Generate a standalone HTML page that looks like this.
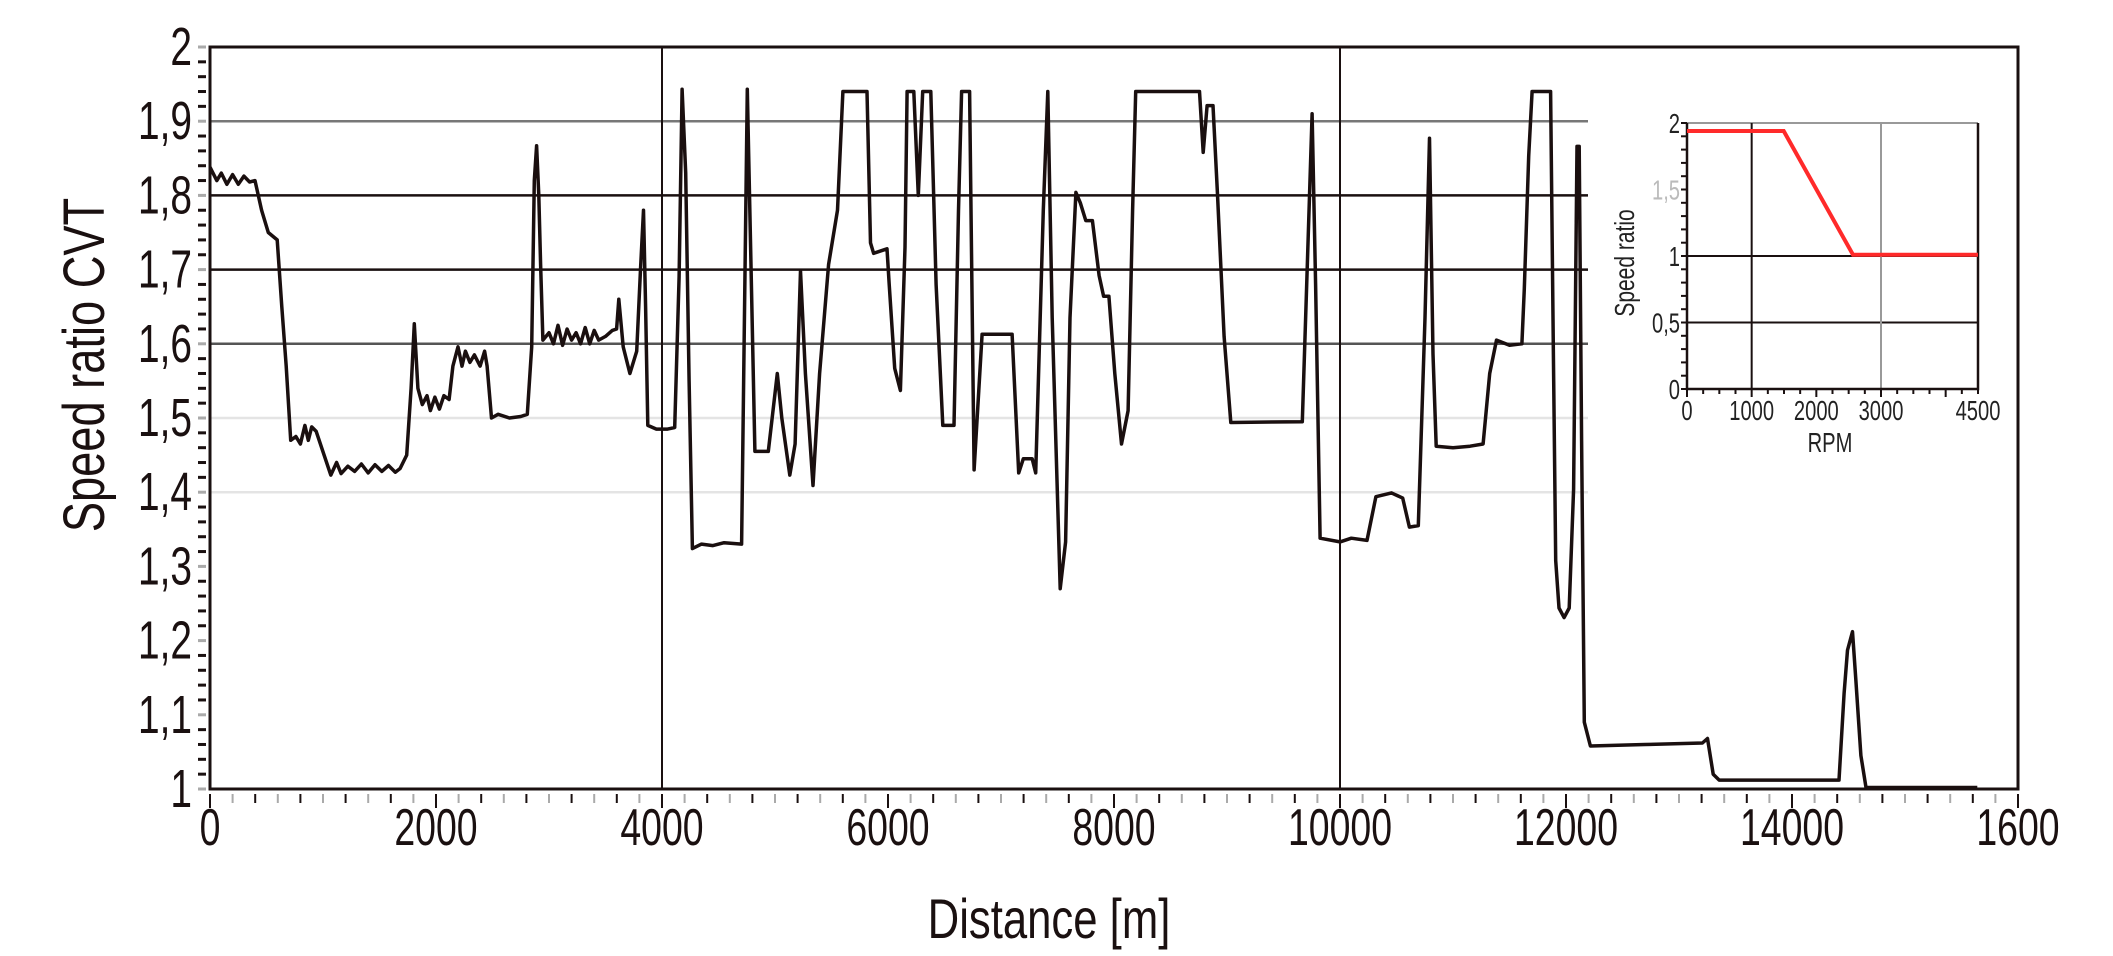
<!DOCTYPE html>
<html><head><meta charset="utf-8"><title>Speed ratio CVT</title>
<style>html,body{margin:0;padding:0;background:#fff}svg{display:block}</style></head>
<body>
<svg id="chart" width="2113" height="956" viewBox="0 0 2113 956" xmlns="http://www.w3.org/2000/svg" font-family="'Liberation Sans', sans-serif">
<g id="grid"></g>
<g id="axes"></g>
<g id="series"></g>
<g id="inset"></g>
</svg>
<script>
const distances=[0,60,100,150,200,250,300,350,398,457,516,595,635,674,714,760,800,840,870,900,940,1010,1069,1120,1160,1220,1280,1340,1400,1460,1520,1580,1640,1682,1741,1780,1808,1840,1879,1920,1950,1990,2030,2070,2116,2150,2195,2230,2260,2300,2340,2390,2430,2452,2491,2550,2650,2750,2808,2847,2870,2890,2910,2926,2946,3000,3040,3080,3120,3160,3200,3240,3280,3320,3360,3400,3440,3500,3560,3598,3618,3657,3716,3776,3810,3836,3855,3874,3950,4050,4112,4151,4178,4210,4240,4269,4350,4450,4550,4704,4755,4822,4941,5020,5060,5131,5178,5226,5269,5336,5395,5474,5553,5601,5814,5845,5873,5991,6011,6059,6110,6150,6169,6228,6268,6307,6379,6426,6485,6584,6624,6651,6722,6762,6833,7098,7157,7197,7276,7307,7374,7414,7453,7524,7572,7611,7663,7702,7750,7809,7868,7908,7955,8007,8066,8125,8165,8192,8757,8789,8824,8876,8915,8974,9034,9666,9705,9753,9784,9824,10000,10100,10239,10318,10456,10555,10614,10693,10752,10792,10823,10851,11000,11150,11266,11325,11385,11500,11610,11631,11670,11700,11864,11888,11909,11938,11983,12028,12067,12097,12117,12138,12162,12216,12700,13207,13252,13303,13356,14416,14461,14491,14535,14565,14610,14655,15640];
const ratios=[1.838,1.82,1.83,1.815,1.828,1.815,1.826,1.818,1.82,1.78,1.75,1.74,1.65,1.57,1.47,1.475,1.465,1.49,1.47,1.488,1.482,1.45,1.423,1.44,1.425,1.435,1.428,1.438,1.426,1.437,1.428,1.436,1.427,1.432,1.45,1.54,1.627,1.54,1.518,1.53,1.51,1.528,1.512,1.53,1.525,1.57,1.596,1.57,1.59,1.575,1.585,1.57,1.59,1.57,1.5,1.505,1.5,1.502,1.505,1.596,1.82,1.867,1.8,1.707,1.605,1.615,1.6,1.625,1.598,1.62,1.605,1.615,1.6,1.622,1.6,1.618,1.605,1.61,1.618,1.62,1.66,1.596,1.56,1.59,1.7,1.78,1.65,1.49,1.485,1.485,1.487,1.69,1.943,1.83,1.55,1.324,1.33,1.328,1.332,1.33,1.943,1.455,1.455,1.56,1.5,1.423,1.465,1.698,1.56,1.409,1.56,1.707,1.78,1.94,1.94,1.736,1.722,1.728,1.68,1.567,1.537,1.73,1.94,1.94,1.80,1.94,1.94,1.68,1.49,1.49,1.78,1.94,1.94,1.43,1.613,1.613,1.426,1.445,1.445,1.426,1.78,1.94,1.635,1.27,1.333,1.635,1.804,1.79,1.766,1.766,1.692,1.664,1.664,1.56,1.465,1.51,1.78,1.94,1.94,1.858,1.921,1.921,1.804,1.61,1.494,1.495,1.68,1.91,1.68,1.338,1.333,1.338,1.335,1.394,1.399,1.392,1.353,1.355,1.635,1.877,1.586,1.462,1.46,1.462,1.465,1.56,1.605,1.598,1.6,1.674,1.853,1.94,1.94,1.597,1.308,1.244,1.231,1.244,1.404,1.866,1.866,1.469,1.09,1.058,1.06,1.062,1.068,1.02,1.012,1.012,1.129,1.187,1.212,1.148,1.045,1.002,1.002];
const yTickValues=[2,1.9,1.8,1.7,1.6,1.5,1.4,1.3,1.2,1.1,1];
const yTickLabels=["2","1,9","1,8","1,7","1,6","1,5","1,4","1,3","1,2","1,1","1"];
const xTickValues=[0,2000,4000,6000,8000,10000,12000,14000,16000];
const xTickLabels=["0","2000","4000","6000","8000","10000","12000","14000","1600"];
const insetRpm=[0,1495,2567,4500];
const insetRatio=[1.94,1.94,1.01,1.01];
const insetXTicks=[0,1000,2000,3000,4500];
const insetXLabels=["0","1000","2000","3000","4500"];
const insetYTicks=[0,0.5,1,1.5,2];
const insetYLabels=["0","0,5","1","1,5","2"];

const NS="http://www.w3.org/2000/svg";
const X0=210,X1=2018,Y0=789,Y1=47;
const xs=d=>X0+d*(X1-X0)/16000;
const ys=v=>Y0-(v-1)*(Y0-Y1);
function mk(tag,attrs,parent,txt){const e=document.createElementNS(NS,tag);for(const k in attrs)e.setAttribute(k,attrs[k]);if(txt!==undefined)e.textContent=txt;parent.appendChild(e);return e;}
const grid=document.getElementById('grid'),axes=document.getElementById('axes'),series=document.getElementById('series'),inset=document.getElementById('inset');

const gridCols={1.9:'#777',1.8:'#1a1010',1.7:'#1a1010',1.6:'#555',1.5:'#e4e4e4',1.4:'#e4e4e4'};
for(const v of [1.9,1.8,1.7,1.6,1.5,1.4]){
 const l=mk('line',{x1:X0,x2:1588,y1:ys(v),y2:ys(v),stroke:gridCols[v],'stroke-width':2.5},grid);
 
 
}
for(const d of [4000,10000]){
 const l=mk('line',{x1:xs(d),x2:xs(d),y1:Y1,y2:Y0,stroke:'#1a1010','stroke-width':2},grid);
 
 
}
const fr=mk('path',{d:`M${X0},${Y0} L${X0},${Y1} L${X1},${Y1} L${X1},${Y0} Z`,fill:'none',stroke:'#1a1010','stroke-width':3},axes);


for(let i=0;i<=50;i++){const v=1+i*0.02;const t=mk('line',{x1:198,x2:206,y1:ys(v),y2:ys(v),stroke:(i%5===0)?'#aaa':'#1a1010','stroke-width':3},axes);
 
 }
yTickValues.forEach((v,i)=>{const t=mk('text',{transform:`translate(192,${ys(v)+18}) scale(0.72,1)`,'text-anchor':'end','font-size':54,fill:'#1a1010'},axes,yTickLabels[i]);
 
 });
for(let d=0;d<=16000;d+=200){const major=d%2000===0;const t=mk('line',{x1:xs(d),x2:xs(d),y1:794,y2:major?808:803,stroke:(d%400===0||major)?'#1a1010':'#aaa','stroke-width':2},axes);
 
 }
xTickValues.forEach((d,i)=>{const t=mk('text',{transform:`translate(${xs(d)},${845}) scale(0.72,1)`,'text-anchor':'middle','font-size':52,fill:'#1a1010'},axes,xTickLabels[i]);
 
 });
const xt=mk('text',{transform:`translate(1049,938) scale(0.78,1)`,'text-anchor':'middle','font-size':56,fill:'#1a1010'},axes,'Distance [m]');


const yt=mk('text',{transform:`translate(104,365) rotate(-90) scale(0.78,1)`,'text-anchor':'middle','font-size':58,fill:'#1a1010'},axes,'Speed ratio CVT');


let dstr=distances.map((d,i)=>(i?'L':'M')+xs(d).toFixed(1)+','+ys(ratios[i]).toFixed(1)).join(' ');
const ln=mk('path',{d:dstr,fill:'none',stroke:'#1a0f0f','stroke-width':3.5,'stroke-linejoin':'round'},series);



const IX0=1687,IX1=1978,IY0=389,IY1=123;
const ix=r=>IX0+r*(IX1-IX0)/4500;
const iy=v=>IY0-v*(IY0-IY1)/2;
const bg=mk('rect',{x:1600,y:100,width:400,height:360,fill:'#fff'},inset);


const ig=[[iy(2),'#999'],[iy(1),'#1a1010'],[iy(0.5),'#1a1010']];
for(const [y,c] of ig){const l=mk('line',{x1:IX0,x2:IX1,y1:y,y2:y,stroke:c,'stroke-width':2},inset);
 
 }
for(const [r,c] of [[1000,'#1a1010'],[3000,'#999']]){const l=mk('line',{x1:ix(r),x2:ix(r),y1:IY1,y2:IY0,stroke:c,'stroke-width':2},inset);
 
 }
const ifr=mk('path',{d:`M${IX0},${IY1} L${IX0},${IY0} L${IX1},${IY0} L${IX1},${IY1}`,fill:'none',stroke:'#1a1010','stroke-width':2.5},inset);


for(let i=0;i<=20;i++){const v=i*0.1;const t=mk('line',{x1:IX0-6,x2:IX0,y1:iy(v),y2:iy(v),stroke:'#1a1010','stroke-width':2},inset);
 
 }
for(let r=0;r<=4500;r+=250){const t=mk('line',{x1:ix(r),x2:ix(r),y1:IY0,y2:IY0+(r%1000===0?8:5),stroke:'#1a1010','stroke-width':2},inset);
 
 }
insetXTicks.forEach((r,i)=>{const t=mk('text',{transform:`translate(${ix(r)},${420}) scale(0.72,1)`,'text-anchor':'middle','font-size':28,fill:'#222'},inset,insetXLabels[i]);
 
 });
insetYTicks.forEach((v,i)=>{const t=mk('text',{transform:`translate(1680,${iy(v)+10}) scale(0.72,1)`,'text-anchor':'end','font-size':28,fill:v===1.5?'#bbb':'#222'},inset,insetYLabels[i]);
 
 });
const ixt=mk('text',{transform:`translate(1830,452) scale(0.72,1)`,'text-anchor':'middle','font-size':28,fill:'#222'},inset,'RPM');


const iyt=mk('text',{transform:`translate(1634,263) rotate(-90) scale(0.75,1)`,'text-anchor':'middle','font-size':28,fill:'#222'},inset,'Speed ratio');


const rp=insetRpm.map((r,i)=>(i?'L':'M')+ix(r).toFixed(1)+','+iy(insetRatio[i]).toFixed(1)).join(' ');
const rl=mk('path',{d:rp,fill:'none',stroke:'#ff2a2a','stroke-width':4},inset);


</script>
</body></html>
